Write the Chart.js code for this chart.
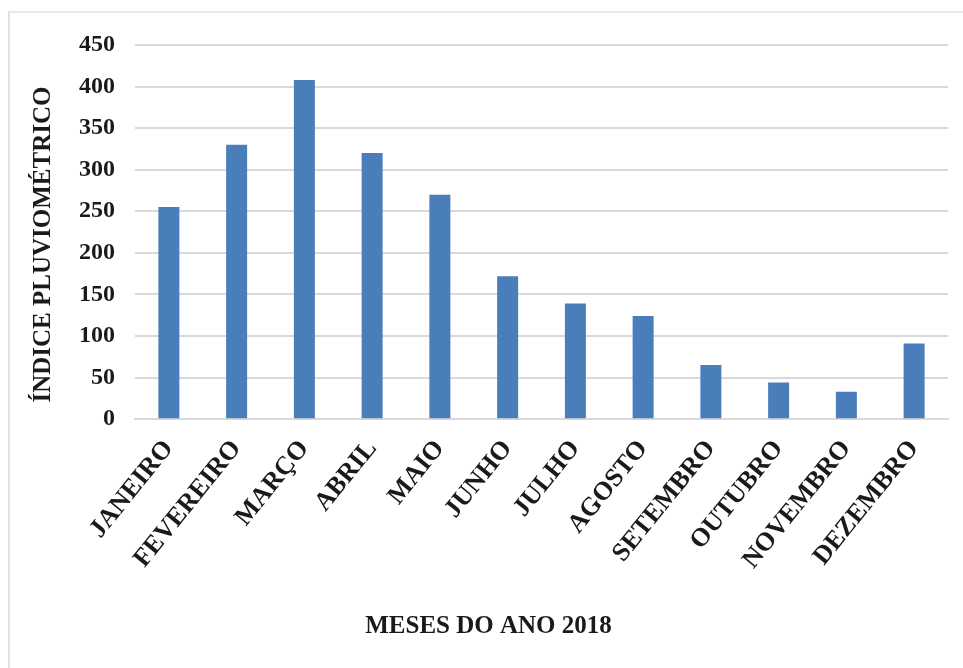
<!DOCTYPE html>
<html>
<head>
<meta charset="utf-8">
<script src="https://cdn.jsdelivr.net/npm/chart.js@4/dist/chart.umd.min.js"></script>
<style>
  html, body { margin: 0; padding: 0; background: #ffffff; }
  #frame {
    position: absolute; left: 8px; top: 11px; width: 980px; height: 700px;
    border-left: 2px solid #e2e2e2; border-top: 2px solid #e8e8e8;
  }
  #wrap { position: absolute; left: 0; top: 0; width: 963px; height: 668px; }
</style>
</head>
<body>
<div id="frame"></div>
<div id="wrap"><canvas id="chart" width="963" height="668"></canvas></div>
<script>
// Monthly rainfall index, 2018
const months = ['JANEIRO', 'FEVEREIRO', 'MARÇO', 'ABRIL', 'MAIO', 'JUNHO',
                'JULHO', 'AGOSTO', 'SETEMBRO', 'OUTUBRO', 'NOVEMBRO', 'DEZEMBRO'];
const rainfall = [255, 330, 408, 320, 270, 172, 139, 124, 65, 44, 33, 91];
const yTicks = [0, 50, 100, 150, 200, 250, 300, 350, 400, 450];

const serifBold = (size) => ({ family: '"Liberation Serif", "Times New Roman", serif', size: size, weight: 'bold' });

new Chart(document.getElementById('chart'), {
  type: 'bar',
  data: {
    labels: months,
    datasets: [{
      label: 'Índice pluviométrico',
      data: rainfall,
      backgroundColor: '#4a7ebb',
      borderWidth: 0,
      barPercentage: 0.31,
      categoryPercentage: 1.0
    }]
  },
  options: {
    responsive: false,
    animation: false,
    devicePixelRatio: 1,
    layout: { padding: { left: 29, right: 15, top: 45, bottom: 26 } },
    plugins: {
      legend: { display: false },
      tooltip: { enabled: false },
      title: {
        display: true,
        text: 'MESES DO ANO 2018',
        position: 'bottom',
        color: '#1a1a1a',
        font: serifBold(25),
        padding: { top: 22, bottom: 0 }
      }
    },
    scales: {
      x: {
        grid: { display: false, drawTicks: false },
        border: { display: true, color: '#d9d9d9', width: 2 },
        ticks: {
          color: '#1a1a1a',
          font: serifBold(26),
          minRotation: 51,
          maxRotation: 51,
          padding: 15
        }
      },
      y: {
        min: 0,
        max: 450,
        afterBuildTicks: (axis) => { axis.ticks = yTicks.map(v => ({ value: v })); },
        grid: { color: '#d9d9d9', lineWidth: 2, drawTicks: false },
        border: { display: false },
        ticks: {
          color: '#1a1a1a',
          font: serifBold(24),
          padding: 20
        },
        title: {
          display: true,
          // trailing spaces keep the title slightly below the plot's midline
          text: 'ÍNDICE PLUVIOMÉTRICO\u00a0\u00a0\u00a0\u00a0',
          color: '#1a1a1a',
          font: serifBold(25),
          padding: { top: 0, bottom: 0 }
        }
      }
    }
  }
});
</script>
</body>
</html>
